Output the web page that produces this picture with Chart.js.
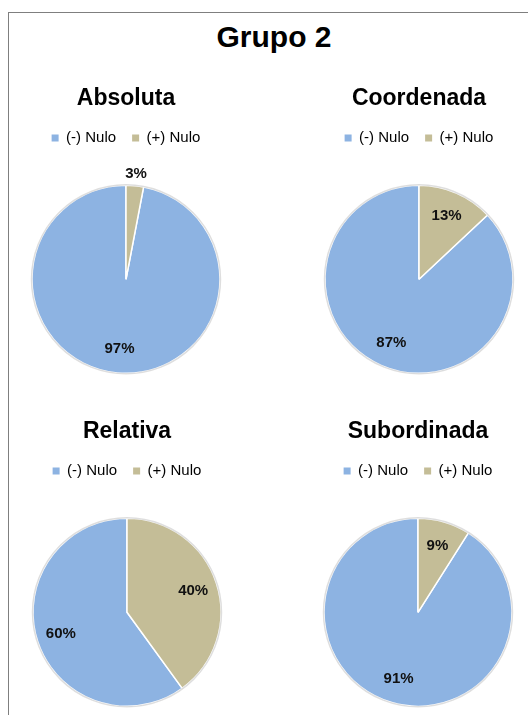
<!DOCTYPE html>
<html>
<head>
<meta charset="utf-8">
<script src="https://cdn.jsdelivr.net/npm/chart.js@4"></script>
<style>
  html, body { margin: 0; padding: 0; background: #fff; overflow: hidden; }
  body { width: 528px; height: 715px; position: relative; font-family: "Liberation Sans", Arial, sans-serif; }
  #frame { position: absolute; left: 8px; top: 12px; width: 540px; height: 720px;
           border-left: 1px solid #7f7f7f; border-top: 1px solid #7f7f7f; }
  #main-title { position: absolute; left: 0; width: 548px; top: 22px; line-height: 30px;
                text-align: center; font-size: 30px; font-weight: bold; color: #000; }
  canvas { position: absolute; }
</style>
</head>
<body>
<div id="frame"></div>
<div id="main-title">Grupo 2</div>
<canvas id="c0" width="200" height="323" style="left:26px;top:80px"></canvas>
<canvas id="c1" width="200" height="323" style="left:319px;top:80px"></canvas>
<canvas id="c2" width="200" height="323" style="left:27px;top:413px"></canvas>
<canvas id="c3" width="200" height="323" style="left:318px;top:413px"></canvas>
<script>
/* global Chart */
var categories = ["(-) Nulo", "(+) Nulo"];
var chartTitles = ["Absoluta", "Coordenada", "Relativa", "Subordinada"];
var negNulo = [97, 87, 60, 91];
var posNulo = [3, 13, 40, 9];

var BLUE = "#8DB3E2";
var TAN = "#C4BD97";
var FONT = "'Liberation Sans', Arial, sans-serif";

// percentage labels, small slices go outside the pie
var pctLabels = {
  id: "pctLabels",
  afterDatasetsDraw: function (chart) {
    var ctx = chart.ctx;
    var meta = chart.getDatasetMeta(0);
    var values = chart.data.datasets[0].data;
    ctx.save();
    // thin grey rim like the excel pie
    var a0 = meta.data[0];
    ctx.beginPath();
    ctx.arc(a0.x, a0.y, a0.outerRadius + 0.5, 0, Math.PI * 2);
    ctx.strokeStyle = "rgba(0,0,0,0.13)";
    ctx.lineWidth = 1.5;
    ctx.stroke();

    ctx.font = "bold 15px " + FONT;
    ctx.fillStyle = "#111";
    ctx.textAlign = "center";
    ctx.textBaseline = "middle";
    meta.data.forEach(function (arc, i) {
      var mid = (arc.startAngle + arc.endAngle) / 2;
      var r = values[i] < 5 ? arc.outerRadius + 12 : arc.outerRadius * 0.74;
      ctx.fillText(values[i] + "%", arc.x + Math.cos(mid) * r, arc.y + Math.sin(mid) * r);
    });
    ctx.restore();
  },
};

function makePie(element, title, neg, pos) {
  var config = {
    type: "pie",
    data: {
      labels: categories,
      datasets: [
        {
          data: [neg, pos],
          backgroundColor: [BLUE, TAN],
          borderColor: "#fff",
          borderWidth: 1.5,
        },
      ],
    },
    options: {
      responsive: false,
      animation: false,
      devicePixelRatio: 1,
      radius: 94,
      rotation: pos * 3.6,
      layout: { padding: 0 },
      plugins: {
        title: {
          display: true,
          text: title,
          color: "#000",
          font: { family: FONT, size: 23, weight: "bold", lineHeight: 1.2 },
          padding: { top: 5, bottom: 2 },
        },
        legend: {
          position: "top",
          labels: {
            boxWidth: 7,
            boxHeight: 7,
            padding: 16,
            color: "#000",
            font: { family: FONT, size: 15 },
            generateLabels: function (chart) {
              var items = Chart.overrides.pie.plugins.legend.labels.generateLabels(chart);
              items.forEach(function (item) {
                item.strokeStyle = item.fillStyle;
                item.lineWidth = 0;
              });
              return items;
            },
          },
        },
        tooltip: { enabled: false },
      },
    },
    plugins: [pctLabels],
  };
  return new Chart(element, config);
}

for (var i = 0; i < chartTitles.length; i++) {
  makePie(document.getElementById("c" + i), chartTitles[i], negNulo[i], posNulo[i]);
}
</script>
</body>
</html>
